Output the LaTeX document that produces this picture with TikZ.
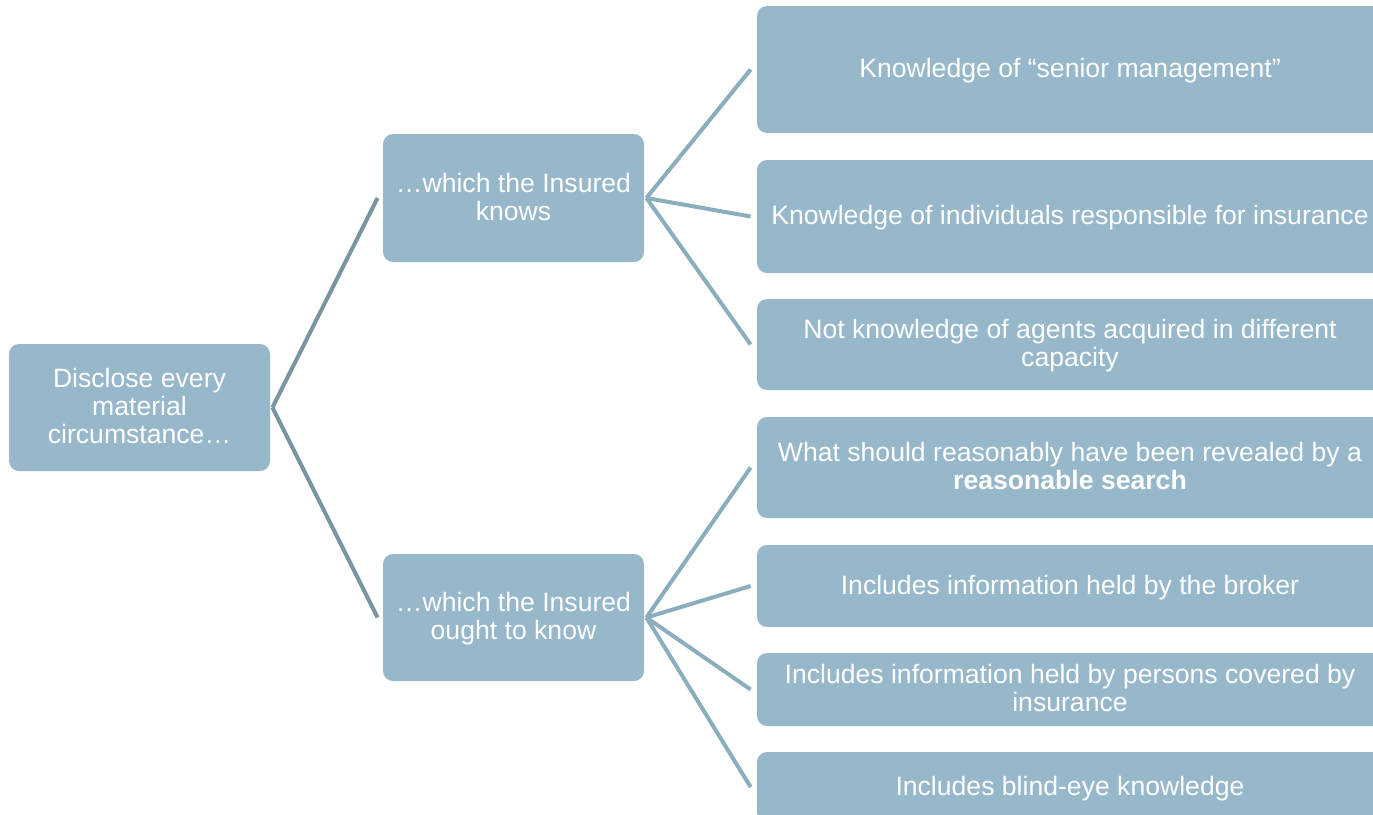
\documentclass[tikz,border=0pt]{standalone}
\usepackage{fontspec}
\setmainfont{Liberation Sans}
% fixed height and depth for every text line, so boxes centre alike
\newcommand\lstrut{\rule[-2.8pt]{0pt}{14pt}}
\begin{document}
\begin{tikzpicture}[x=0.5pt,y=-0.5pt,
  box/.style={fill=boxfill, rounded corners=5pt, inner sep=0pt, text=white,
    align=center, font=\fontsize{13.3pt}{14pt}\selectfont},
  rootlink/.style={draw=rootline, line width=2pt},
  leaflink/.style={draw=leafline, line width=2pt}]
\definecolor{boxfill}{HTML}{96B8CA}
\definecolor{rootline}{HTML}{7895A3}
\definecolor{leafline}{HTML}{8AAEBE}
\useasboundingbox (0,0) rectangle (1373,815);
\clip (0,0) rectangle (1373,815);

% root and the two middle boxes
\node[box, minimum width=130.5pt, minimum height=63.5pt] (root) at (139.5,407.5)
  {\lstrut Disclose every\\\lstrut material\\\lstrut circumstance…};
\node[box, minimum width=130.5pt, minimum height=64pt] (m1) at (513.5,198)
  {\lstrut …which the Insured\\\lstrut knows};
\node[box, minimum width=130.5pt, minimum height=63.5pt] (m2) at (513.5,617.5)
  {\lstrut …which the Insured\\\lstrut ought to know};

% leaf boxes (running past the right edge)
\node[box, minimum width=313pt, minimum height=63.5pt] (r1) at (1070,69.5)
  {\lstrut Knowledge of “senior management”};
\node[box, minimum width=313pt, minimum height=56.5pt] (r2) at (1070,216.5)
  {\lstrut Knowledge of individuals responsible for insurance};
\node[box, minimum width=313pt, minimum height=45.5pt] (r3) at (1070,344.5)
  {\lstrut Not knowledge of agents acquired in different\\\lstrut capacity};
\node[box, minimum width=313pt, minimum height=50.5pt] (r4) at (1070,467.5)
  {\lstrut What should reasonably have been revealed by a\\\lstrut\textbf{reasonable search}};
\node[box, minimum width=313pt, minimum height=41pt] (r5) at (1070,586)
  {\lstrut Includes information held by the broker};
\node[box, minimum width=313pt, minimum height=36.5pt] (r6) at (1070,689.5)
  {\lstrut Includes information held by persons covered by\\\lstrut insurance};
\node[box, minimum width=313pt, minimum height=35pt] (r7) at (1070,787)
  {\lstrut Includes blind-eye knowledge};

% connectors
\draw[rootlink] ([xshift=1pt]root.east) -- ([xshift=-2.5pt]m1.west);
\draw[rootlink] ([xshift=1pt]root.east) -- ([xshift=-2.5pt]m2.west);
\foreach \r in {r1,r2,r3}
  \draw[leaflink] ([xshift=1pt]m1.east) -- ([xshift=-3pt]\r.west);
\foreach \r in {r4,r5,r6,r7}
  \draw[leaflink] ([xshift=1pt]m2.east) -- ([xshift=-3pt]\r.west);
\end{tikzpicture}
\end{document}
